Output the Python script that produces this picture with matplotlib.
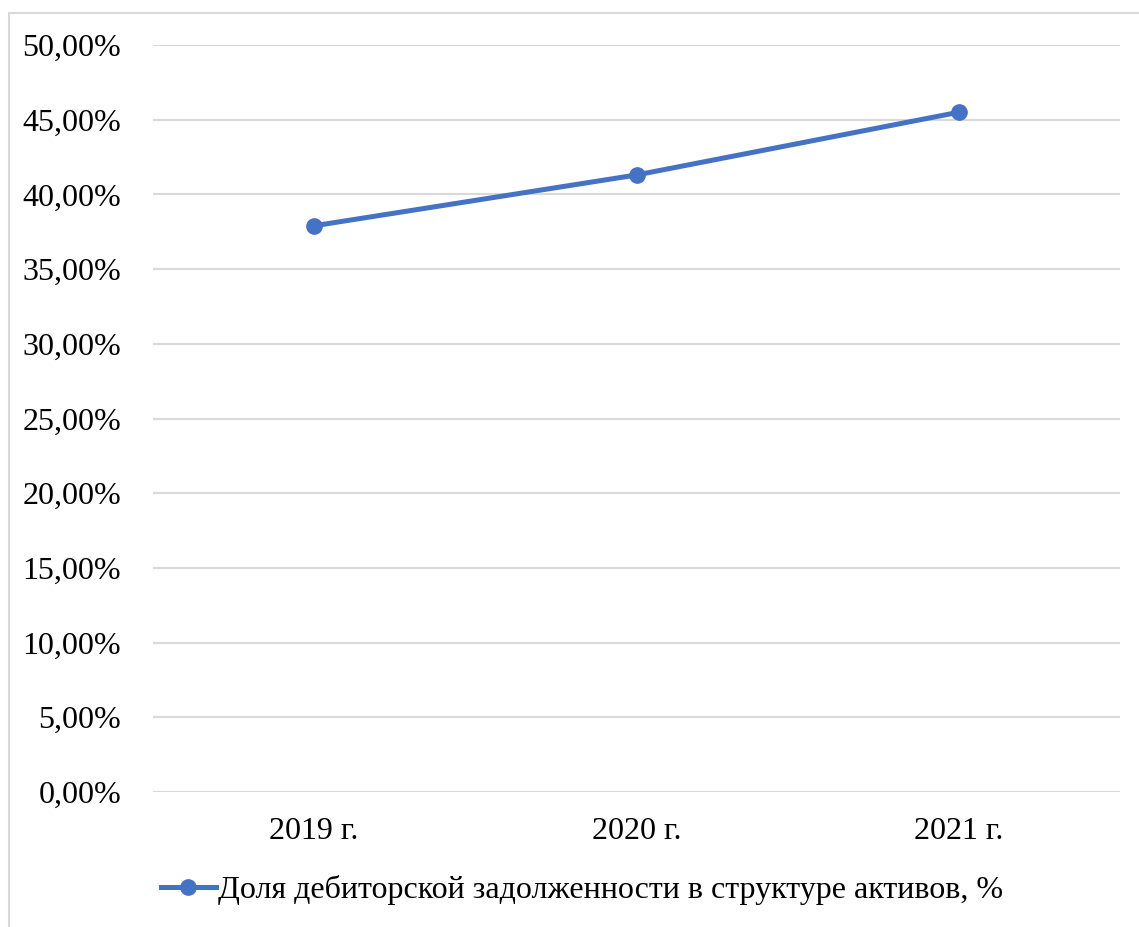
import matplotlib.pyplot as plt
import matplotlib.patches as patches
from matplotlib.ticker import FuncFormatter
from matplotlib.lines import Line2D

years = ['2019 г.', '2020 г.', '2021 г.']
share = [37.9, 41.3, 45.5]
y_ticks = [0, 5, 10, 15, 20, 25, 30, 35, 40, 45, 50]
series_name = 'Доля дебиторской задолженности в структуре активов, %'

plt.rcParams['font.family'] = ['Liberation Serif', 'DejaVu Serif']

W, H = 1139, 927
fig = plt.figure(figsize=(W / 100, H / 100), dpi=100)

# chart frame (cut off at right and bottom like the reference)
fig.patches.append(patches.Rectangle((9 / W, -0.01), 1.02, 1 - 13 / H + 0.01,
                                     transform=fig.transFigure, fill=False,
                                     edgecolor='#D9D9D9', linewidth=1.5))

ax = fig.add_axes([153 / W, 1 - 792 / H, (1120 - 153) / W, (792 - 45) / H])
color = '#4472C4'
x = list(range(len(years)))
ax.plot(x, share, color=color, linewidth=3.6, marker='o', markersize=11,
        solid_capstyle='round', zorder=3)

ax.set_xlim(-0.5, len(years) - 0.5)
ax.set_ylim(0, 50)
ax.set_yticks(y_ticks)
ax.yaxis.set_major_formatter(FuncFormatter(lambda v, p: f'{v:.2f}'.replace('.', ',') + '%'))
ax.set_xticks(x)
ax.set_xticklabels(years)
ax.tick_params(axis='both', length=0, labelsize=23, colors='black')
ax.tick_params(axis='y', pad=23)
ax.tick_params(axis='x', pad=18)
ax.grid(axis='y', color='#D9D9D9', linewidth=1.5)
ax.set_axisbelow(True)
for s in ax.spines.values():
    s.set_visible(False)

handle = Line2D([], [], color=color, linewidth=3.6, marker='o', markersize=11)
fig.legend([handle], [series_name], loc='center', bbox_to_anchor=(582 / W, 1 - 890 / H),
           frameon=False, fontsize=23, handlelength=1.75, handletextpad=0.06,
           borderaxespad=0)

fig.savefig('out.png', dpi=100)
